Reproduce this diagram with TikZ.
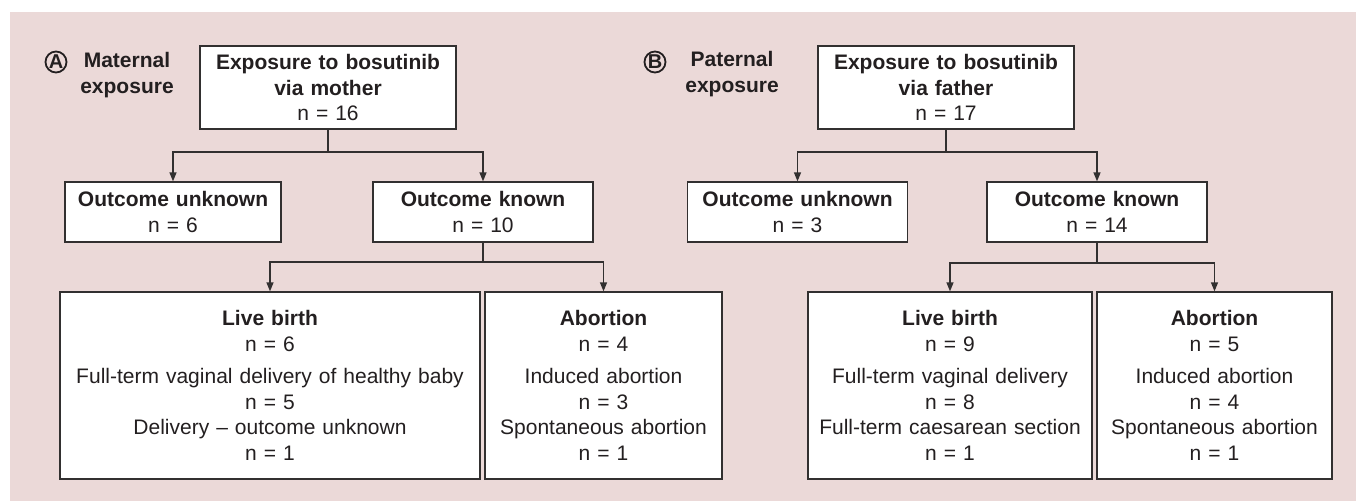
\documentclass[tikz,border=0pt]{standalone}
\usepackage{fontspec}
\setmainfont{Liberation Sans}
\usetikzlibrary{arrows.meta}
\definecolor{bgpink}{RGB}{235,217,216}
\definecolor{ink}{RGB}{35,31,32}
\definecolor{edge}{RGB}{50,48,48}
\tikzset{
  box/.style={draw=edge, fill=white, line width=1.3pt, inner sep=0pt, align=center,
    text=ink, font=\fontsize{21}{25.5}\selectfont},
  arr/.style={draw=edge, line width=1.3pt, -{Triangle[length=9pt,width=7pt]}},
  ln/.style={draw=edge, line width=1.3pt},
  circ/.style={circle, draw=ink, line width=1.8pt, inner sep=0pt, minimum size=21pt,
    text=ink, font=\fontsize{20}{20}\selectfont\bfseries},
  lbl/.style={align=center, text=ink, inner sep=0pt, font=\fontsize{21}{25.5}\selectfont\bfseries}
}
\begin{document}
\begin{tikzpicture}[x=1pt,y=-1pt]
\useasboundingbox (0,0) rectangle (1356,501);
\fill[white] (0,0) rectangle (1356,501);
\fill[bgpink] (10,12) rectangle (1356,501);

% Panel A
\node[circ] (cA) at (56,62) {A};
\node[lbl] (tA) at (127,75) {Maternal\\exposure};
\node[box, text width=256pt, minimum height=83pt] (topA) at (328,87.5)
  {\textbf{Exposure to bosutinib}\\\textbf{via mother}\\n = 16};
\node[box, text width=216pt, minimum height=60pt] (unkA) at (173,212)
  {\textbf{Outcome unknown}\\n = 6};
\node[box, text width=220pt, minimum height=60pt] (knA) at (483,212)
  {\textbf{Outcome known}\\n = 10};
\node[box, text width=420pt, minimum height=187pt] (liveA) at (270,385.5)
  {\textbf{Live birth}\\n = 6\\[7pt]Full-term vaginal delivery of healthy baby\\n = 5\\Delivery -- outcome unknown\\n = 1};
\node[box, text width=237pt, minimum height=187pt] (abA) at (603.5,385.5)
  {\textbf{Abortion}\\n = 4\\[7pt]Induced abortion\\n = 3\\Spontaneous abortion\\n = 1};
\coordinate (jA) at (328,152);
\coordinate (kA) at (483,262);
\draw[ln] (topA.south) -- (jA);
\draw[arr] (jA) -| (unkA.north);
\draw[arr] (jA) -| (knA.north);
\draw[ln] (knA.south) -- (kA);
\draw[arr] (kA) -| (liveA.north);
\draw[arr] (kA) -| (abA.north);

% Panel B
\node[circ] (cB) at (655,62) {B};
\node[lbl] (tB) at (732,74) {Paternal\\exposure};
\node[box, text width=256pt, minimum height=83pt] (topB) at (946,87.5)
  {\textbf{Exposure to bosutinib}\\\textbf{via father}\\n = 17};
\node[box, text width=220pt, minimum height=60pt] (unkB) at (797.5,212)
  {\textbf{Outcome unknown}\\n = 3};
\node[box, text width=220pt, minimum height=60pt] (knB) at (1097,212)
  {\textbf{Outcome known}\\n = 14};
\node[box, text width=284pt, minimum height=187pt] (liveB) at (950,385.5)
  {\textbf{Live birth}\\n = 9\\[7pt]Full-term vaginal delivery\\n = 8\\Full-term caesarean section\\n = 1};
\node[box, text width=235pt, minimum height=187pt] (abB) at (1214.5,385.5)
  {\textbf{Abortion}\\n = 5\\[7pt]Induced abortion\\n = 4\\Spontaneous abortion\\n = 1};
\coordinate (jB) at (946,152);
\coordinate (kB) at (1097,263);
\draw[ln] (topB.south) -- (jB);
\draw[arr] (jB) -| (unkB.north);
\draw[arr] (jB) -| (knB.north);
\draw[ln] (knB.south) -- (kB);
\draw[arr] (kB) -| (liveB.north);
\draw[arr] (kB) -| (abB.north);
\end{tikzpicture}
\end{document}
